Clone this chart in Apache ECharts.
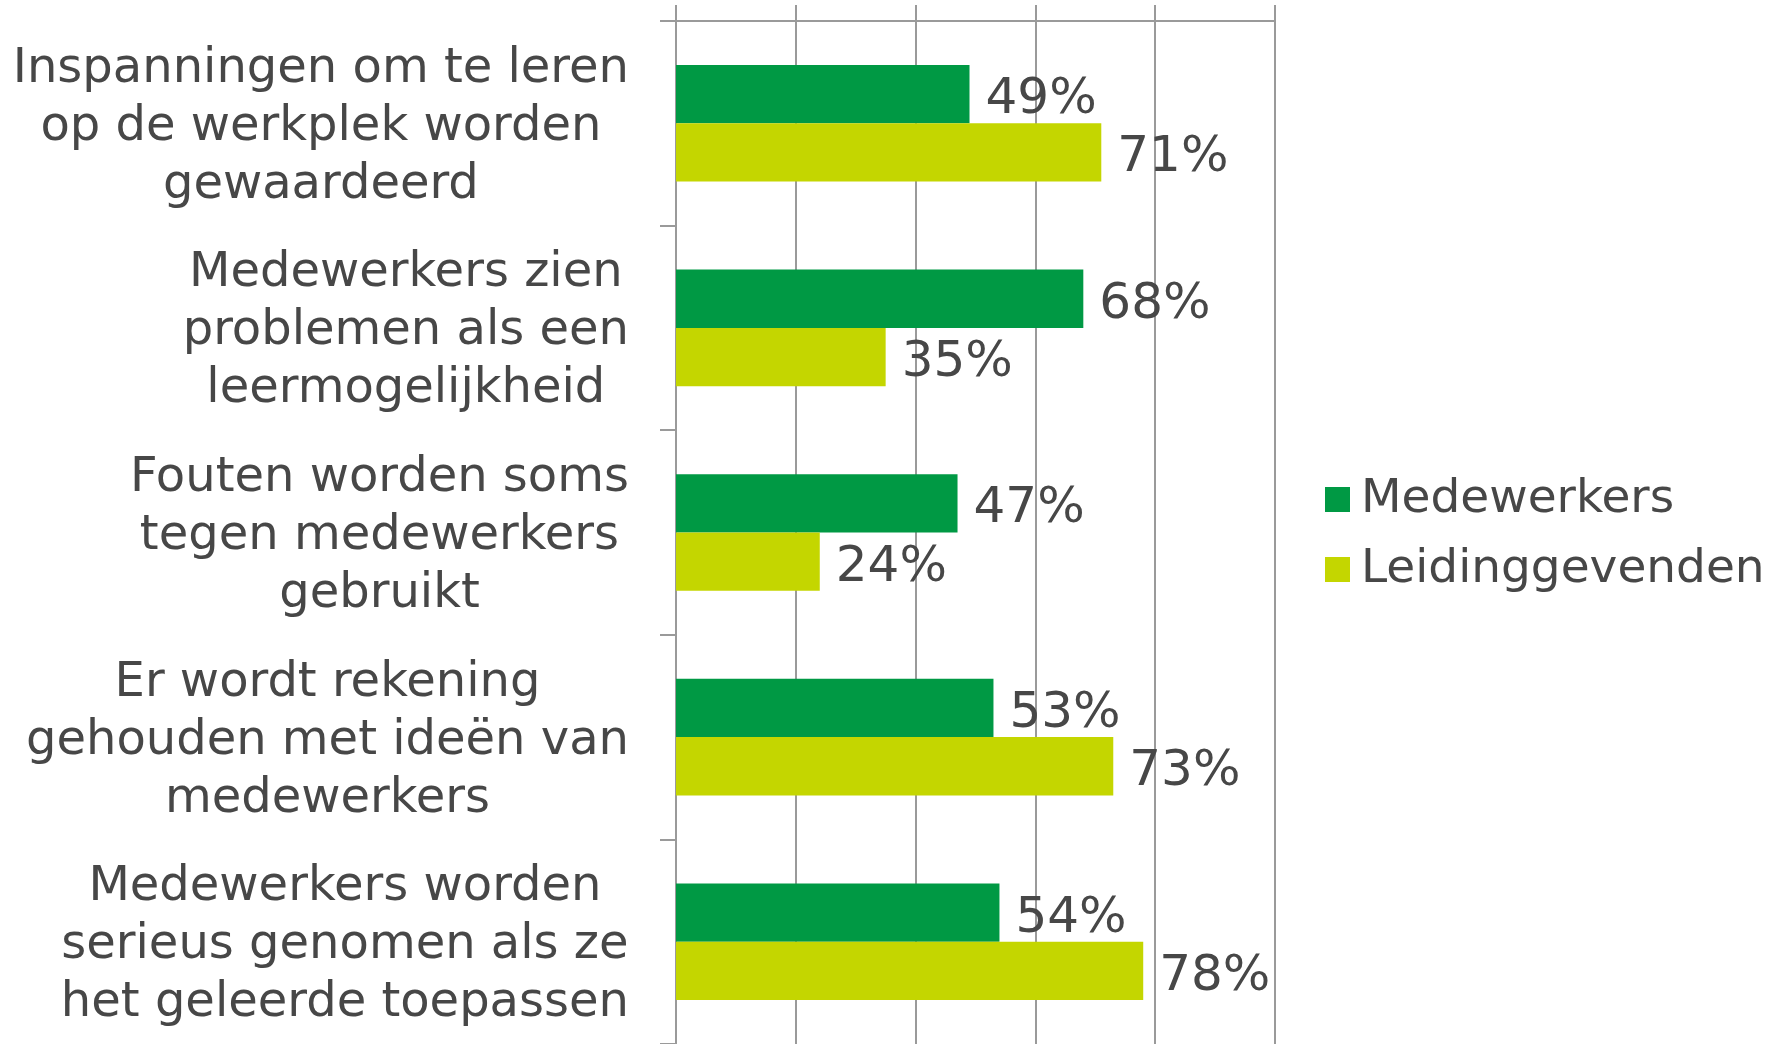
<!DOCTYPE html>
<html>
<head>
<meta charset="utf-8">
<script src="https://cdn.jsdelivr.net/npm/echarts@6/dist/echarts.min.js"></script>
<style>
html, body { margin: 0; padding: 0; background: #fff; }
#echarts { width: 1783px; height: 1044px; }
</style>
</head>
<body>
<div id="echarts"></div>
<script>
// categorieen (van boven naar beneden)
var categories = [
    'Inspanningen om te leren\nop de werkplek worden\ngewaardeerd',
    'Medewerkers zien\nproblemen als een\nleermogelijkheid',
    'Fouten worden soms\ntegen medewerkers\ngebruikt',
    'Er wordt rekening\ngehouden met ideën van\nmedewerkers',
    'Medewerkers worden\nserieus genomen als ze\nhet geleerde toepassen'
];
var seriesNames = ['Medewerkers', 'Leidinggevenden'];
var medewerkers = [49, 68, 47, 53, 54];
var leidinggevenden = [71, 35, 24, 73, 78];
var axisTicks = [0, 20, 40, 60, 80, 100];

var textColor = '#474747';
var lineColor = '#9a9a9a';
var font = 'DejaVu Sans';

var myChart = echarts.init(document.getElementById('echarts'));
var labelStyle = {
    show: true,
    position: 'right',
    distance: 16,
    offset: [0, 6],
    formatter: '{c}%',
    fontSize: 50,
    fontFamily: font,
    color: textColor
};
option = {
    animation: false,
    legend: {
        orient: 'vertical',
        left: 1325,
        top: 476,
        padding: 0,
        itemWidth: 25,
        itemHeight: 25,
        itemGap: 23,
        icon: 'rect',
        data: seriesNames,
        textStyle: { fontSize: 47, fontFamily: font, color: textColor, padding: [0, 0, 0, 6] }
    },
    grid: {
        left: 676,
        right: 508,
        top: 21,
        bottom: 0
    },
    xAxis: {
        type: 'value',
        position: 'top',
        min: axisTicks[0],
        max: axisTicks[axisTicks.length - 1],
        interval: axisTicks[1] - axisTicks[0],
        axisLine: { show: true, lineStyle: { color: lineColor, width: 2 } },
        axisTick: { show: true, length: 16, lineStyle: { color: lineColor, width: 2 } },
        axisLabel: { show: false },
        splitLine: { show: true, lineStyle: { color: lineColor, width: 2 } }
    },
    yAxis: {
        type: 'category',
        inverse: true,
        data: categories,
        axisLine: { show: true, lineStyle: { color: lineColor, width: 2 } },
        axisTick: { show: true, length: 16, lineStyle: { color: lineColor, width: 2 } },
        axisLabel: {
            margin: 47,
            padding: [8, 0, 0, 0],
            formatter: function (v) {
                return v.split('\n').map(function (l) { return '{c|' + l + '}'; }).join('\n');
            },
            rich: {
                c: { align: 'center', fontSize: 48, lineHeight: 58, fontFamily: font, color: textColor }
            }
        }
    },
    series: [
        {
            name: seriesNames[0],
            type: 'bar',
            data: medewerkers,
            barGap: '0%',
            barCategoryGap: '43%',
            itemStyle: { color: '#009944' },
            label: labelStyle
        },
        {
            name: seriesNames[1],
            type: 'bar',
            data: leidinggevenden,
            barGap: '0%',
            barCategoryGap: '43%',
            itemStyle: { color: '#c4d600' },
            label: labelStyle
        }
    ]
};
myChart.setOption(option);
</script>
</body>
</html>
